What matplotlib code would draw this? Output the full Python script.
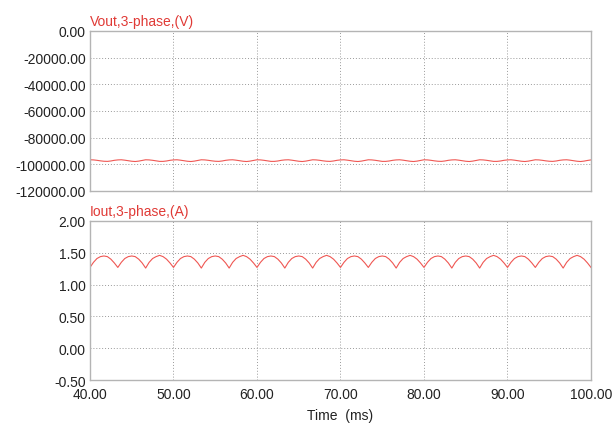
import numpy as np
import matplotlib.pyplot as plt
from matplotlib.ticker import FormatStrFormatter

# Simulation output, 40 ms .. 100 ms, sampled every 5/12 ms (8 points per 300 Hz ripple period)
time_ms = np.linspace(40.0, 100.0, 145)

iout = [
    1.27, 1.35, 1.41, 1.44, 1.45, 1.44, 1.40, 1.34,
    1.27, 1.35, 1.41, 1.44, 1.45, 1.44, 1.40, 1.34,
    1.26, 1.35, 1.41, 1.44, 1.46, 1.44, 1.40, 1.34,
    1.27, 1.35, 1.41, 1.44, 1.45, 1.44, 1.40, 1.34,
    1.26, 1.35, 1.41, 1.44, 1.45, 1.44, 1.40, 1.34,
    1.26, 1.35, 1.41, 1.44, 1.46, 1.44, 1.40, 1.34,
    1.27, 1.35, 1.41, 1.44, 1.45, 1.44, 1.40, 1.34,
    1.26, 1.35, 1.41, 1.44, 1.45, 1.44, 1.40, 1.34,
    1.26, 1.35, 1.41, 1.44, 1.46, 1.44, 1.40, 1.34,
    1.27, 1.35, 1.41, 1.44, 1.45, 1.44, 1.40, 1.34,
    1.27, 1.35, 1.41, 1.44, 1.45, 1.44, 1.40, 1.34,
    1.26, 1.35, 1.41, 1.44, 1.46, 1.44, 1.40, 1.34,
    1.27, 1.35, 1.41, 1.44, 1.45, 1.44, 1.40, 1.34,
    1.26, 1.35, 1.41, 1.44, 1.45, 1.44, 1.40, 1.34,
    1.26, 1.35, 1.41, 1.44, 1.46, 1.44, 1.40, 1.34,
    1.27, 1.35, 1.41, 1.44, 1.45, 1.44, 1.40, 1.34,
    1.27, 1.35, 1.41, 1.44, 1.45, 1.44, 1.40, 1.34,
    1.26, 1.35, 1.41, 1.44, 1.46, 1.44, 1.40, 1.34,
    1.27,
]

vout = [
    -96600, -96700, -97000, -97400, -97700, -97800, -97500, -97000,
    -96700, -96600, -96900, -97300, -97700, -97900, -97600, -97100,
    -96600, -96700, -97000, -97400, -97800, -97800, -97500, -97000,
    -96700, -96600, -96900, -97300, -97700, -97900, -97600, -97100,
    -96600, -96700, -97000, -97400, -97700, -97800, -97500, -97000,
    -96700, -96600, -96900, -97300, -97700, -97900, -97600, -97100,
    -96600, -96700, -97000, -97400, -97800, -97800, -97500, -97000,
    -96700, -96600, -96900, -97300, -97700, -97900, -97600, -97100,
    -96600, -96700, -97000, -97400, -97700, -97800, -97500, -97000,
    -96700, -96600, -96900, -97300, -97700, -97900, -97600, -97100,
    -96600, -96700, -97000, -97400, -97800, -97800, -97500, -97000,
    -96700, -96600, -96900, -97300, -97700, -97900, -97600, -97100,
    -96600, -96700, -97000, -97400, -97700, -97800, -97500, -97000,
    -96700, -96600, -96900, -97300, -97700, -97900, -97600, -97100,
    -96600, -96700, -97000, -97400, -97800, -97800, -97500, -97000,
    -96700, -96600, -96900, -97300, -97700, -97900, -97600, -97100,
    -96600, -96700, -97000, -97400, -97700, -97800, -97500, -97000,
    -96700, -96600, -96900, -97300, -97700, -97900, -97600, -97100,
    -96700,
]

x_ticks = [40, 50, 60, 70, 80, 90, 100]
v_ticks = [0, -20000, -40000, -60000, -80000, -100000, -120000]
i_ticks = [2.0, 1.5, 1.0, 0.5, 0.0, -0.5]

LINE_RED = '#ef5753'
LABEL_RED = '#e03a36'

plt.rcParams['font.family'] = ['Liberation Sans', 'DejaVu Sans']

fig = plt.figure(figsize=(6.13, 4.27), dpi=100)
ax_v = fig.add_axes([0.1468, 0.5504, 0.8173, 0.3747])
ax_i = fig.add_axes([0.1468, 0.1077, 0.8173, 0.3724])


def style_axes(axes, yticks):
    axes.set_xlim(40, 100)
    axes.set_ylim(min(yticks), max(yticks))
    axes.set_xticks(x_ticks)
    axes.set_yticks(yticks)
    axes.grid(True, color='#9a9a9a', linestyle=(0, (1, 2)), linewidth=0.7)
    for spine in axes.spines.values():
        spine.set_color('#b4b4b4')
        spine.set_linewidth(1.0)
    axes.tick_params(length=0, labelsize=10, colors='#222222', pad=3)
    axes.tick_params(axis='x', pad=5)
    axes.yaxis.set_major_formatter(FormatStrFormatter('%.2f'))
    axes.xaxis.set_major_formatter(FormatStrFormatter('%.2f'))


style_axes(ax_v, v_ticks)
ax_v.tick_params(labelbottom=False)
ax_v.plot(time_ms, vout, color=LINE_RED, linewidth=0.8)
ax_v.text(0.0, 1.02, 'Vout,3-phase,(V)', transform=ax_v.transAxes,
          color=LABEL_RED, fontsize=10, ha='left', va='bottom')

style_axes(ax_i, i_ticks)
ax_i.plot(time_ms, iout, color=LINE_RED, linewidth=0.8)
ax_i.text(0.0, 1.02, 'Iout,3-phase,(A)', transform=ax_i.transAxes,
          color=LABEL_RED, fontsize=10, ha='left', va='bottom')
ax_i.set_xlabel('Time  (ms)', fontsize=10, color='#222222', labelpad=5)

fig.savefig('out.png', dpi=100, facecolor='white')
